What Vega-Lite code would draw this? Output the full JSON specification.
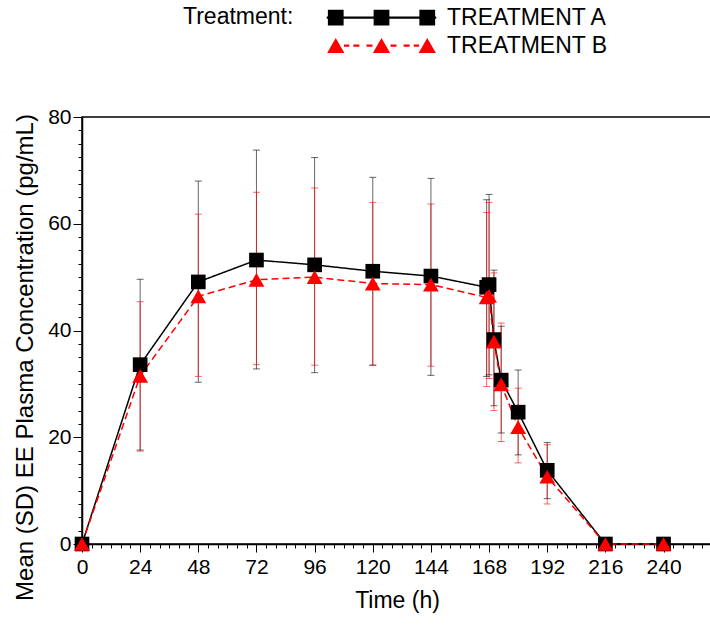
{
  "$schema": "https://vega.github.io/schema/vega-lite/v6.json",
  "autosize": {"type": "none"},
  "padding": {"left": 82, "top": 117, "right": 0, "bottom": 92},
  "width": 630,
  "height": 427,
  "background": "white",
  "config": {
    "font": "Liberation Sans",
    "view": {"stroke": "black", "strokeWidth": 1.5},
    "axis": {"grid": false, "domainColor": "black", "domainWidth": 1.5, "tickColor": "black", "labelColor": "black", "titleColor": "black", "labelFont": "Liberation Sans", "titleFont": "Liberation Sans", "titleFontWeight": "normal", "labelFontSize": 21, "titleFontSize": 23}
  },
  "data": {"values": [
    {"trt": "TREATMENT A", "time": 0, "mean": 0, "lo": 0, "hi": 0},
    {"trt": "TREATMENT A", "time": 24, "mean": 33.6, "lo": 17.6, "hi": 49.6},
    {"trt": "TREATMENT A", "time": 48, "mean": 49.1, "lo": 30.3, "hi": 68.0},
    {"trt": "TREATMENT A", "time": 72, "mean": 53.2, "lo": 32.8, "hi": 73.8},
    {"trt": "TREATMENT A", "time": 96, "mean": 52.3, "lo": 32.1, "hi": 72.4},
    {"trt": "TREATMENT A", "time": 120, "mean": 51.1, "lo": 33.5, "hi": 68.7},
    {"trt": "TREATMENT A", "time": 144, "mean": 50.2, "lo": 31.6, "hi": 68.5},
    {"trt": "TREATMENT A", "time": 167, "mean": 48.1, "lo": 31.4, "hi": 64.5},
    {"trt": "TREATMENT A", "time": 168, "mean": 48.6, "lo": 31.7, "hi": 65.5},
    {"trt": "TREATMENT A", "time": 170, "mean": 38.3, "lo": 25.9, "hi": 51.3},
    {"trt": "TREATMENT A", "time": 173, "mean": 30.7, "lo": 20.8, "hi": 40.8},
    {"trt": "TREATMENT A", "time": 180, "mean": 24.7, "lo": 16.7, "hi": 32.6},
    {"trt": "TREATMENT A", "time": 192, "mean": 13.8, "lo": 8.5, "hi": 19.0},
    {"trt": "TREATMENT A", "time": 216, "mean": 0, "lo": 0, "hi": 0},
    {"trt": "TREATMENT A", "time": 240, "mean": 0, "lo": 0, "hi": 0},
    {"trt": "TREATMENT B", "time": 0, "mean": 0, "lo": 0, "hi": 0},
    {"trt": "TREATMENT B", "time": 24, "mean": 31.5, "lo": 17.4, "hi": 45.4},
    {"trt": "TREATMENT B", "time": 48, "mean": 46.4, "lo": 31.4, "hi": 61.8},
    {"trt": "TREATMENT B", "time": 72, "mean": 49.5, "lo": 33.6, "hi": 65.9},
    {"trt": "TREATMENT B", "time": 96, "mean": 50.0, "lo": 33.5, "hi": 66.7},
    {"trt": "TREATMENT B", "time": 120, "mean": 48.8, "lo": 33.5, "hi": 64.0},
    {"trt": "TREATMENT B", "time": 144, "mean": 48.6, "lo": 33.3, "hi": 63.7},
    {"trt": "TREATMENT B", "time": 167, "mean": 46.2, "lo": 29.5, "hi": 62.1},
    {"trt": "TREATMENT B", "time": 168, "mean": 46.5, "lo": 31.0, "hi": 64.0},
    {"trt": "TREATMENT B", "time": 170, "mean": 37.9, "lo": 25.0, "hi": 50.8},
    {"trt": "TREATMENT B", "time": 173, "mean": 29.9, "lo": 19.2, "hi": 41.4},
    {"trt": "TREATMENT B", "time": 180, "mean": 21.9, "lo": 15.2, "hi": 29.2},
    {"trt": "TREATMENT B", "time": 192, "mean": 12.6, "lo": 7.5, "hi": 18.6},
    {"trt": "TREATMENT B", "time": 216, "mean": 0, "lo": 0, "hi": 0},
    {"trt": "TREATMENT B", "time": 240, "mean": 0, "lo": 0, "hi": 0}
  ]},
  "encoding": {
    "x": {
      "field": "time", "type": "quantitative",
      "scale": {"domain": [0, 260], "nice": false, "zero": false},
      "axis": {
        "title": "Time (h)",
        "values": [0,4,8,12,16,20,24,28,32,36,40,44,48,52,56,60,64,68,72,76,80,84,88,92,96,100,104,108,112,116,120,124,128,132,136,140,144,148,152,156,160,164,168,172,176,180,184,188,192,196,200,204,208,212,216,220,224,228,232,236,240,244,248,252,256],
        "labelExpr": "datum.value % 24 === 0 ? datum.label : ''",
        "labelOverlap": false,
        "labelBound": false,
        "labelFlush": false,
        "tickSize": {"condition": {"test": "datum.value % 24 === 0", "value": 8}, "value": 4},
        "labelPadding": 4,
        "titlePadding": 12
      }
    },
    "y": {
      "field": "mean", "type": "quantitative",
      "scale": {"domain": [0, 80], "nice": false},
      "axis": {
        "title": "Mean (SD) EE Plasma Concentration (pg/mL)",
        "values": [0,2.5,5,7.5,10,12.5,15,17.5,20,22.5,25,27.5,30,32.5,35,37.5,40,42.5,45,47.5,50,52.5,55,57.5,60,62.5,65,67.5,70,72.5,75,77.5,80],
        "labelExpr": "datum.value % 20 === 0 ? datum.label : ''",
        "labelOverlap": false,
        "labelBound": false,
        "labelFlush": false,
        "tickSize": {"condition": {"test": "datum.value % 20 === 0", "value": 9}, "value": 4},
        "labelPadding": 2,
        "titlePadding": 10,
        "titleFontSize": 24,
        "titleY": 240
      }
    },
    "color": {
      "field": "trt", "type": "nominal",
      "scale": {"domain": ["TREATMENT A", "TREATMENT B"], "range": ["#000000", "#ff0000"]},
      "legend": {
        "orient": "none",
        "legendX": 101,
        "legendY": -111,
        "direction": "vertical",
        "title": "Treatment:",
        "titleOrient": "left",
        "titleAnchor": "start",
        "titleFont": "Liberation Sans",
        "titleFontSize": 23,
        "titleFontWeight": "normal",
        "titleColor": "black",
        "titlePadding": 76,
        "labelFont": "Liberation Sans",
        "labelFontSize": 23,
        "labelColor": "black",
        "labelLimit": 400,
        "labelOffset": 54,
        "rowPadding": 4,
        "symbolSize": 225,
        "symbolStrokeWidth": 0,
        "symbolOpacity": 1
      }
    }
  },
  "layer": [
    {
      "mark": {"type": "rule", "strokeWidth": 1, "opacity": 0.6},
      "encoding": {
        "y": {"field": "lo", "type": "quantitative"},
        "y2": {"field": "hi"}
      }
    },
    {
      "mark": {"type": "tick", "orient": "horizontal", "size": 7, "thickness": 1, "opacity": 0.6},
      "encoding": {"y": {"field": "lo", "type": "quantitative"}}
    },
    {
      "mark": {"type": "tick", "orient": "horizontal", "size": 7, "thickness": 1, "opacity": 0.6},
      "encoding": {"y": {"field": "hi", "type": "quantitative"}}
    },
    {
      "mark": {"type": "line", "strokeWidth": 1.5},
      "encoding": {
        "strokeDash": {
          "field": "trt", "type": "nominal",
          "scale": {"domain": ["TREATMENT A", "TREATMENT B"], "range": [[1, 0], [7, 4]]},
          "legend": null
        }
      }
    },
    {
      "transform": [{"filter": "datum.trt === 'TREATMENT A'"}],
      "mark": {"type": "point", "shape": "square", "size": 215, "filled": true, "opacity": 1, "strokeWidth": 0}
    },
    {
      "transform": [{"filter": "datum.trt === 'TREATMENT B'"}],
      "mark": {"type": "point", "shape": "triangle-up", "size": 250, "filled": true, "opacity": 1, "strokeWidth": 0}
    },
    {
      "transform": [{"filter": "datum.time < 0"}],
      "mark": {"type": "point", "filled": true, "opacity": 1, "strokeWidth": 0, "size": 225},
      "encoding": {
        "shape": {
          "field": "trt", "type": "nominal",
          "scale": {"domain": ["TREATMENT A", "TREATMENT B"], "range": [
            "M-7.3,-0.15H7.3V0.15H-7.3Z M-7.15,-1.05H-5.05V1.05H-7.15Z M-1.05,-1.05H1.05V1.05H-1.05Z M5.05,-1.05H7.15V1.05H5.05Z",
            "M-6.1,-1L-4.95,1H-7.25Z M0,-1L1.15,1H-1.15Z M6.1,-1L7.25,1H4.95Z M-5.0,-0.15H-4.3V0.15H-5.0Z M-3.75,-0.15H-2.95V0.15H-3.75Z M-2.0,-0.15H-1.2V0.15H-2.0Z M1.2,-0.15H2.0V0.15H1.2Z M2.95,-0.15H3.75V0.15H2.95Z M4.3,-0.15H5.0V0.15H4.3Z"
          ]}
        }
      }
    }
  ]
}
